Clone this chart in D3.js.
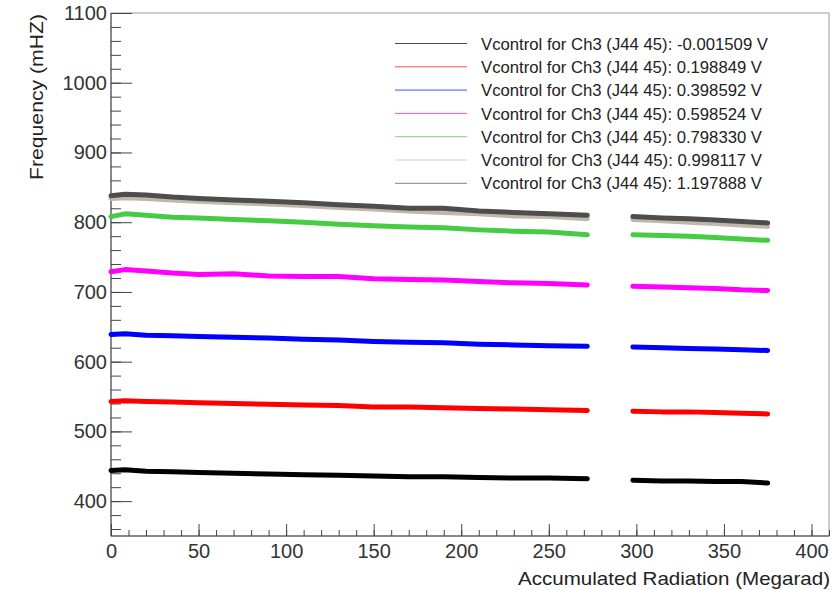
<!DOCTYPE html>
<html>
<head>
<meta charset="utf-8">
<script src="https://cdn.jsdelivr.net/npm/d3@7"></script>
<style>
  body { margin: 0; background: #fff; }
  text { font-family: "Liberation Sans", Arial, Helvetica, sans-serif; fill: #222; }
  .axis path, .axis line { stroke: #444; }
</style>
</head>
<body>
<div id="chart"></div>
<script>
// radiation dose (Megarad), two runs with a gap in between
var runA = [0, 8, 20, 35, 50, 70, 90, 110, 130, 150, 170, 190, 210, 230, 250, 272]
var runB = [298, 315, 330, 345, 360, 375]

var labels = [
  'Vcontrol for Ch3 (J44 45): -0.001509 V',
  'Vcontrol for Ch3 (J44 45): 0.198849 V',
  'Vcontrol for Ch3 (J44 45): 0.398592 V',
  'Vcontrol for Ch3 (J44 45): 0.598524 V',
  'Vcontrol for Ch3 (J44 45): 0.798330 V',
  'Vcontrol for Ch3 (J44 45): 0.998117 V',
  'Vcontrol for Ch3 (J44 45): 1.197888 V'
]
var colors = ['#000000', '#ff0000', '#0000ff', '#ff00ff', '#45cc42', '#c0b6ac', '#4d4d4d']

// frequency (mHZ) per series, first run then second run
var v0A = [444, 445, 443, 442, 441, 440, 439, 438, 437, 436, 435, 435, 434, 433, 433, 432]
var v0B = [430, 429, 429, 428, 428, 426]
var v1A = [543, 544, 543, 542, 541, 540, 539, 538, 537, 535, 535, 534, 533, 532, 531, 530]
var v1B = [529, 528, 528, 527, 526, 525]
var v2A = [639, 640, 638, 637, 636, 635, 634, 632, 631, 629, 628, 627, 625, 624, 623, 622]
var v2B = [621, 620, 619, 618, 617, 616]
var v3A = [729, 732, 730, 727, 725, 726, 723, 722, 722, 719, 718, 717, 715, 713, 712, 710]
var v3B = [708, 707, 706, 705, 703, 702]
var v4A = [808, 812, 810, 807, 806, 804, 802, 800, 797, 795, 793, 792, 789, 787, 786, 782]
var v4B = [782, 781, 780, 778, 776, 774]
var v5A = [834, 835, 834, 832, 830, 828, 826, 824, 821, 819, 816, 814, 812, 809, 808, 805]
var v5B = [804, 802, 800, 798, 796, 794]
var v6A = [838, 840, 839, 836, 834, 832, 830, 828, 825, 823, 820, 820, 816, 814, 812, 810]
var v6B = [808, 806, 805, 803, 801, 799]

var xTicks = [0, 50, 100, 150, 200, 250, 300, 350, 400]
var yTicks = [400, 500, 600, 700, 800, 900, 1000, 1100]

var seriesA = [v0A, v1A, v2A, v3A, v4A, v5A, v6A]
var seriesB = [v0B, v1B, v2B, v3B, v4B, v5B, v6B]

var W = 838, H = 590
var margin = {top: 13, right: 9, bottom: 54, left: 111},
    width = W - margin.left - margin.right,
    height = H - margin.top - margin.bottom

var x = d3.scaleLinear().domain([0, 410]).range([0, width])
var y = d3.scaleLinear().domain([350, 1100]).range([height, 0])

var svg = d3.select('#chart').append('svg')
  .attr('width', W)
  .attr('height', H)

var g = svg.append('g')
  .attr('transform', `translate(${[margin.left, margin.top]})`)

// frame
g.append('rect')
  .attr('width', width)
  .attr('height', height)
  .attr('fill', 'none')
  .attr('stroke', '#9a9a9a')

// minor ticks
g.append('g')
  .attr('class', 'axis')
  .call(d3.axisLeft(y).tickValues(d3.range(360, 1101, 20)).tickSize(-10).tickFormat(''))
  .call(s => s.select('.domain').remove())
g.append('g')
  .attr('class', 'axis')
  .attr('transform', `translate(0,${height})`)
  .call(d3.axisBottom(x).tickValues(d3.range(0, 411, 10)).tickSize(-6).tickFormat(''))
  .call(s => s.select('.domain').remove())

// major ticks + labels
var yAxis = g.append('g')
  .attr('class', 'axis')
  .call(d3.axisLeft(y).tickValues(yTicks).tickSize(-21).tickFormat(d3.format('d')))
yAxis.select('.domain').attr('d', `M0,0V${height}`)
yAxis.selectAll('.tick text')
  .attr('x', -4)
  .style('font-size', '20px')
  .style('fill', '#333')

var xAxis = g.append('g')
  .attr('class', 'axis')
  .attr('transform', `translate(0,${height})`)
  .call(d3.axisBottom(x).tickValues(xTicks).tickSize(-12).tickFormat(d3.format('d')))
xAxis.select('.domain').attr('d', `M0,0H${width}`)
xAxis.selectAll('.tick text')
  .attr('y', 8)
  .style('font-size', '20px')
  .style('fill', '#333')

// titles
svg.append('text')
  .attr('x', 830)
  .attr('y', 585)
  .attr('text-anchor', 'end')
  .attr('textLength', 312)
  .attr('lengthAdjust', 'spacingAndGlyphs')
  .style('font-size', '19px')
  .text('Accumulated Radiation (Megarad)')

svg.append('text')
  .attr('transform', 'translate(43,14) rotate(-90)')
  .attr('text-anchor', 'end')
  .attr('textLength', 166)
  .attr('lengthAdjust', 'spacingAndGlyphs')
  .style('font-size', '18px')
  .text('Frequency (mHZ)')

// data lines
var line = d3.line()
  .x(d => x(d[0]))
  .y(d => y(d[1]))

var plot = g.append('g')
colors.forEach(function(c, i){
  [[runA, seriesA[i]], [runB, seriesB[i]]].forEach(function(run){
    plot.append('path')
      .datum(run[0].map((r, j) => [r, run[1][j]]))
      .attr('d', line)
      .attr('fill', 'none')
      .attr('stroke', c)
      .attr('stroke-width', 5)
      .attr('stroke-linecap', 'round')
      .attr('stroke-linejoin', 'round')
  })
})

// legend
var legend = svg.append('g')
var rows = legend.selectAll('g').data(labels)
  .enter().append('g')
  .attr('transform', (d, i) => `translate(0,${43.5 + i * 23.3})`)
rows.append('line')
  .attr('x1', 395).attr('x2', 467)
  .attr('stroke', (d, i) => colors[i])
  .attr('stroke-opacity', 0.7)
  .attr('stroke-width', 1)
rows.append('text')
  .attr('x', 481)
  .attr('dy', '0.36em')
  .attr('textLength', (d, i) => i === 0 ? 287 : 281)
  .attr('lengthAdjust', 'spacingAndGlyphs')
  .style('font-size', '17px')
  .text(d => d)
</script>
</body>
</html>
